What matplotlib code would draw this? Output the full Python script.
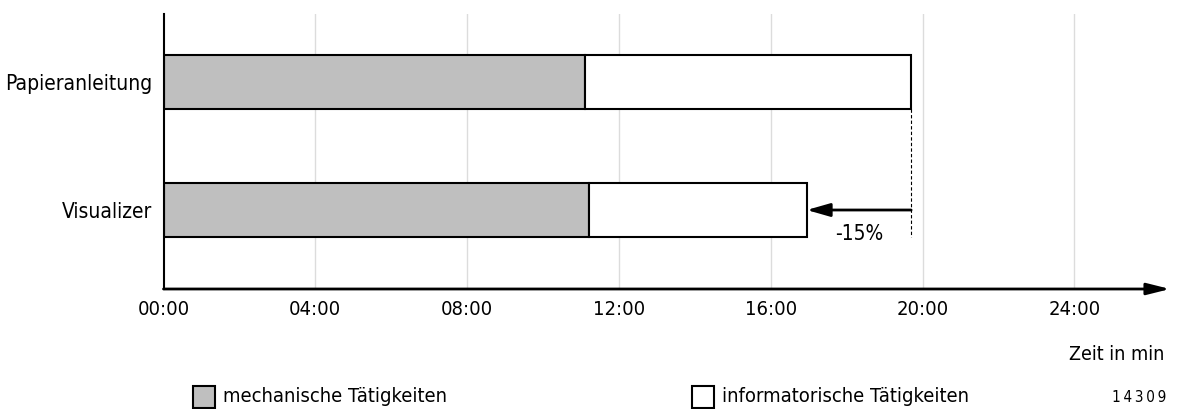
import matplotlib
matplotlib.use("Agg")
import matplotlib.pyplot as plt
from matplotlib.patches import Rectangle

plt.rcParams['font.family'] = ['DejaVu Sans']
plt.rcParams['font.stretch'] = 'condensed'

# Data (minutes)
categories = ["Visualizer", "Papieranleitung"]
mechanisch = [11.2, 11.1]
gesamt = [16.95, 19.7]
informatorisch = [g - m for g, m in zip(gesamt, mechanisch)]
tick_values = [0, 4, 8, 12, 16, 20, 24]
tick_labels = ["00:00", "04:00", "08:00", "12:00", "16:00", "20:00", "24:00"]
reduction_label = "-15%"

W, H = 1179, 409
fig = plt.figure(figsize=(W / 100, H / 100), dpi=100)
left_px, right_px, top_px, bottom_px = 163.5, 1160, 14, 289
ax = fig.add_axes([left_px / W, 1 - bottom_px / H, (right_px - left_px) / W, (bottom_px - top_px) / H])

px_per_min = 37.95
ax.set_xlim(0, (right_px - left_px) / px_per_min)
ax.set_ylim(-0.617, 1.531)

ypos = list(range(len(categories)))
bar_h = 0.42
gray = "#bfbfbf"

for x in tick_values[1:]:
    ax.axvline(x, color="#dcdcdc", lw=1.0, zorder=0)

ax.barh(ypos, mechanisch, height=bar_h, color=gray, edgecolor="black", lw=1.5, zorder=2)
ax.barh(ypos, informatorisch, left=mechanisch, height=bar_h, color="white", edgecolor="black", lw=1.5, zorder=2)

# Reference line and arrow marking the reduction
ax.plot([gesamt[1], gesamt[1]], [ypos[1] - bar_h / 2, ypos[0] - bar_h / 2], color="black",
        lw=0.8, ls=(0, (3, 2)), zorder=1)
ax.annotate("", xy=(gesamt[0], ypos[0]), xytext=(gesamt[1], ypos[0]),
            arrowprops=dict(arrowstyle="-|>,head_length=1.4,head_width=0.4", color="black", lw=2.0,
                            shrinkA=0, shrinkB=0), zorder=3)
ax.text((gesamt[0] + gesamt[1]) / 2, ypos[0] - 0.11, reduction_label, ha="center", va="top", fontsize=15)

ax.set_yticks(ypos)
ax.set_yticklabels(categories, fontsize=15)
ax.set_xticks(tick_values)
ax.set_xticklabels(tick_labels, fontsize=14.5)
ax.tick_params(length=0, pad=8)
ax.tick_params(axis="x", pad=8)

for s in ["top", "right"]:
    ax.spines[s].set_visible(False)
ax.spines["left"].set_linewidth(1.5)
ax.spines["bottom"].set_visible(False)

# x axis with arrow head
ax.annotate("", xy=(1170 / W, 1 - bottom_px / H), xytext=(left_px / W, 1 - bottom_px / H),
            xycoords="figure fraction", textcoords="figure fraction",
            arrowprops=dict(arrowstyle="-|>,head_length=1.4,head_width=0.35", color="black", lw=2.0,
                            shrinkA=0, shrinkB=0))

fig.text(1164 / W, 1 - 355 / H, "Zeit in min", ha="right", va="center", fontsize=14)

# Legend
for x0, color, label in [(193, gray, "mechanische Tätigkeiten"), (692, "white", "informatorische Tätigkeiten")]:
    fig.patches.append(Rectangle((x0 / W, 1 - 408 / H), 22 / W, 22 / H, transform=fig.transFigure,
                                 facecolor=color, edgecolor="black", lw=1.5))
    fig.text((x0 + 30) / W, 1 - 397 / H, label, ha="left", va="center", fontsize=14.5)

fig.text(1166 / W, 1 - 397 / H, "1\u20094\u20093\u20090\u20099", ha="right", va="center", fontsize=11)

fig.savefig("out.png", dpi=100)
